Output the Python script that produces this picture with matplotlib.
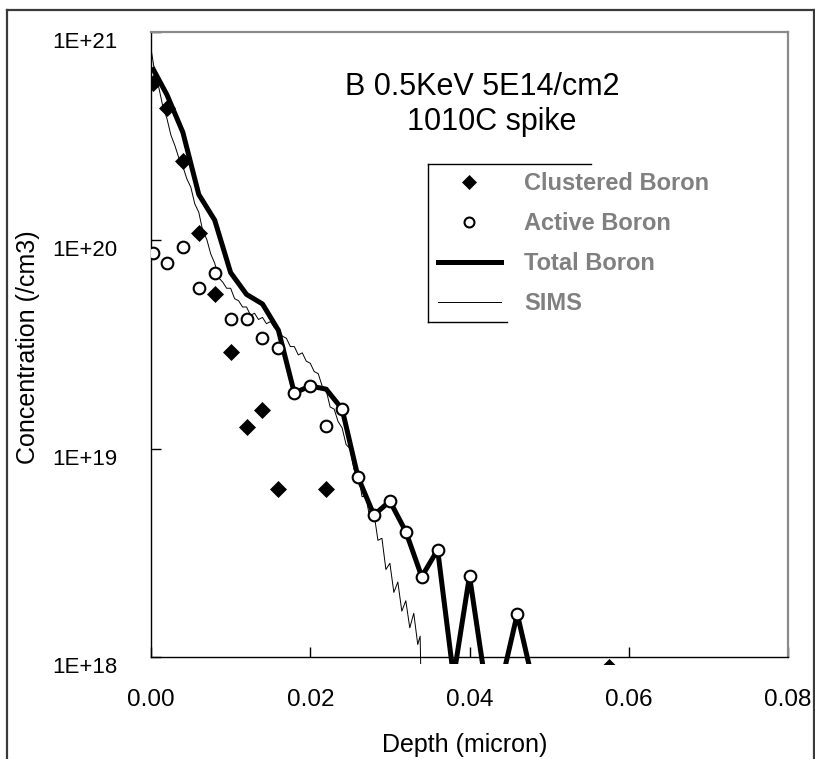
import numpy as np
import matplotlib
matplotlib.use('Agg')
import matplotlib.pyplot as plt
from matplotlib.lines import Line2D
from matplotlib.patches import Rectangle
from matplotlib.ticker import NullLocator, FuncFormatter
from matplotlib.transforms import ScaledTranslation

#%% Data
clustered_depth = [0.0003, 0.002, 0.004, 0.006, 0.008, 0.010, 0.012, 0.014, 0.016, 0.022, 0.0575]
clustered_conc = [5.7e20, 4.3e20, 2.4e20, 1.09e20, 5.5e19, 2.9e19, 1.27e19, 1.54e19, 6.4e18, 6.4e18, 9.0e17]

active_depth = [0.0003, 0.002, 0.004, 0.006, 0.008, 0.010, 0.012, 0.014, 0.016, 0.018,
                0.020, 0.022, 0.024, 0.026, 0.028, 0.030, 0.032, 0.034, 0.036, 0.040, 0.046]
active_conc = [8.7e19, 7.8e19, 9.3e19, 5.9e19, 7.0e19, 4.2e19, 4.2e19, 3.4e19, 3.05e19, 1.85e19,
               2.0e19, 1.29e19, 1.55e19, 7.3e18, 4.8e18, 5.6e18, 4.0e18, 2.43e18, 3.27e18, 2.45e18, 1.61e18]

total_depth = [0.0003, 0.002, 0.004, 0.006, 0.008, 0.010, 0.012, 0.014, 0.016, 0.018,
               0.020, 0.022, 0.024, 0.026, 0.028, 0.030, 0.032, 0.034, 0.036, 0.038,
               0.040, 0.042, 0.044, 0.046, 0.048]
total_conc = [6.6e20, 5.0e20, 3.3e20, 1.66e20, 1.25e20, 7.0e19, 5.5e19, 4.95e19, 3.7e19, 1.85e19,
              2.0e19, 1.93e19, 1.55e19, 7.3e18, 4.8e18, 5.6e18, 4.0e18, 2.43e18, 3.27e18, 8.0e17,
              2.45e18, 7.5e17, 7.5e17, 1.61e18, 7.5e17]

# SIMS profile, log10 of concentration
sims_depth = [0.0000, 0.0005, 0.0010, 0.0015, 0.0020, 0.0025, 0.0030, 0.0035, 0.0040, 0.0045,
              0.0050, 0.0055, 0.0060, 0.0065, 0.0070, 0.0075, 0.0080, 0.0085, 0.0090, 0.0095,
              0.0100, 0.0105, 0.0110, 0.0115, 0.0120, 0.0125, 0.0130, 0.0135, 0.0140, 0.0145,
              0.0150, 0.0155, 0.0160, 0.0165, 0.0170, 0.0175, 0.0180, 0.0185, 0.0190, 0.0195,
              0.0200, 0.0205, 0.0210, 0.0215, 0.0220, 0.0225, 0.0230, 0.0235, 0.0240, 0.0245,
              0.0250, 0.0255, 0.0260, 0.0265, 0.0270, 0.0275, 0.0280, 0.0285, 0.0290, 0.0295,
              0.0300, 0.0305, 0.0310, 0.0315, 0.0320, 0.0325, 0.0330, 0.0335, 0.0338, 0.0339]
sims_log10 = [20.92, 20.80, 20.73, 20.64, 20.585, 20.505, 20.455, 20.395, 20.355, 20.295,
              20.255, 20.175, 20.135, 20.045, 20.005, 19.935, 19.89, 19.82, 19.80, 19.77,
              19.77, 19.72, 19.71, 19.68, 19.68, 19.64, 19.65, 19.62, 19.63, 19.60,
              19.61, 19.58, 19.58, 19.54, 19.53, 19.49, 19.49, 19.45, 19.46, 19.42,
              19.41, 19.37, 19.36, 19.30, 19.28, 19.20, 19.19, 19.13, 19.10, 19.02,
              19.00, 18.90, 18.89, 18.77, 18.77, 18.66, 18.69, 18.56, 18.57, 18.42,
              18.45, 18.31, 18.36, 18.22, 18.27, 18.14, 18.21, 18.06, 18.10, 17.90]

xticks = [0.00, 0.02, 0.04, 0.06, 0.08]
yticks = [1e18, 1e19, 1e20, 1e21]

plt.rcParams['font.family'] = 'Liberation Sans'

#%% Plot
W, H = 815, 759
fig = plt.figure(figsize=(W / 100, H / 100), dpi=100)
ax = fig.add_axes([151 / W, 1 - 657 / H, (788 - 151) / W, (657 - 32) / H])
ax.set_yscale('log')
ax.set_xlim(0, 0.08)
ax.set_ylim(1e18, 1e21)

# Excel clips the series a few pixels below the plot area
clip_rect = Rectangle((0, -6.5 / 625), 1, 1 + 6.5 / 625, transform=ax.transAxes)

sims_line, = ax.plot(sims_depth, np.power(10.0, sims_log10), color='black', lw=0.7,
                     zorder=2, label='SIMS')
total_line, = ax.plot(total_depth, total_conc, color='black', lw=3.6,
                      solid_joinstyle='round', zorder=3, label='Total Boron')
clus, = ax.plot(clustered_depth, clustered_conc, ls='none', marker='D', ms=7.8,
                color='black', mew=0.5, zorder=4, label='Clustered Boron')
act, = ax.plot(active_depth, active_conc, ls='none', marker='o', ms=8.4,
               mfc='white', mec='black', mew=1.5, zorder=5, label='Active Boron')
for art in (sims_line, total_line, clus):
    art.set_clip_path(clip_rect)

# Axes styling
for side in ('top', 'right'):
    ax.spines[side].set_color('#8a8a8a')
    ax.spines[side].set_linewidth(1.6)
for side in ('left', 'bottom'):
    ax.spines[side].set_color('black')
    ax.spines[side].set_linewidth(1.0)

ax.set_xticks(xticks)
ax.xaxis.set_major_formatter(FuncFormatter(lambda v, p: f'{v:.2f}'))
ax.set_yticks(yticks)
ax.yaxis.set_minor_locator(NullLocator())
ax.yaxis.set_major_formatter(FuncFormatter(lambda v, p: f'1E+{int(round(np.log10(v)))}'))
ax.tick_params(axis='both', direction='in', length=7, width=1)
ax.tick_params(axis='x', pad=23, labelsize=17.5)
ax.tick_params(axis='y', pad=24, labelsize=16)

# y labels sit a bit below their ticks in the original
offset = ScaledTranslation(0, -8 / 100, fig.dpi_scale_trans)
for t in ax.yaxis.get_major_ticks():
    t.label1.set_transform(t.label1.get_transform() + offset)

fig.text(28 / W, 1 - 347 / H, 'Concentration (/cm3)', rotation=90, ha='center', va='center',
         fontsize=18)
fig.text(465 / W, 1 - 745 / H, 'Depth (micron)', ha='center', va='center', fontsize=18)

# Title
fig.text(482 / W, 1 - 87 / H, 'B 0.5KeV 5E14/cm2', ha='center', va='center', fontsize=22)
fig.text(492 / W, 1 - 122 / H, '1010C spike', ha='center', va='center', fontsize=22)

# Legend
leg = ax.legend(handles=[clus, act, total_line, sims_line], loc='upper left',
                bbox_to_anchor=(438 / W, 1 - 172 / H), bbox_transform=fig.transFigure,
                frameon=False, prop=dict(family='Liberation Sans', weight='bold', size=17),
                labelcolor='#808080', handlelength=2.65, handletextpad=1.0,
                labelspacing=0.72, borderpad=0, borderaxespad=0, markerscale=0.85)

# partial legend frame
for xs, ys in [((428, 428), (164, 322)), ((428, 591), (164, 164)), ((428, 507), (322, 322))]:
    fig.add_artist(Line2D([x / W for x in xs], [1 - y / H for y in ys],
                          transform=fig.transFigure, color='black', lw=1.0))

# figure border
for xs, ys in [((7, 7), (10, 760)), ((7, 814), (10, 10)), ((813.5, 813.5), (10, 760))]:
    fig.add_artist(Line2D([x / W for x in xs], [1 - y / H for y in ys],
                          transform=fig.transFigure, color='#3a3a3a', lw=1.6))

fig.savefig('out.png', dpi=100)
